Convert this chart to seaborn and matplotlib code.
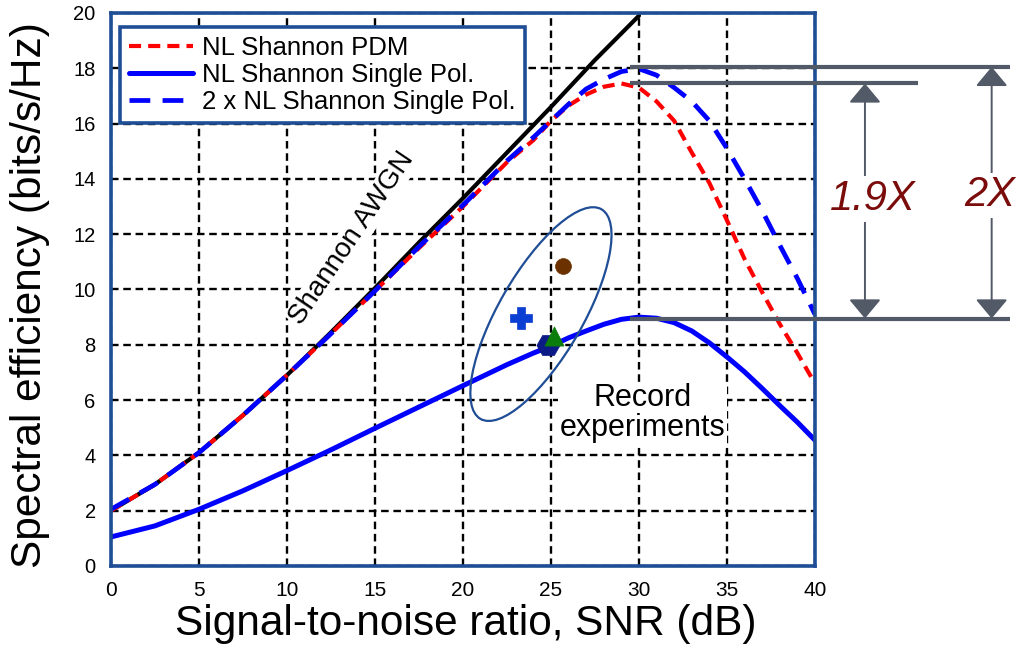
#!/usr/bin/env python3
"""Spectral efficiency vs SNR: Shannon AWGN limit and nonlinear Shannon curves."""

import matplotlib

matplotlib.use("Agg")
import matplotlib.pyplot as plt
import pandas as pd
import seaborn as sns
from matplotlib.patches import Ellipse
from matplotlib.transforms import ScaledTranslation

# values
SNR_AWGN = [0, 2.5, 5, 7.5, 10, 12.5, 15, 17.5, 20, 22.5, 25, 27.5, 30]
SE_AWGN = [2.0, 2.95, 4.1, 5.45, 6.9, 8.45, 10.05, 11.7, 13.3, 14.95, 16.6, 18.3, 19.9]

SNR_NL = [0, 2.5, 5, 7.5, 10, 12.5, 15, 17.5, 20, 22.5, 24, 25, 26, 27, 28,
          29, 30, 31, 32, 33, 34, 35, 36, 37, 38, 39, 40]
SE_PDM = [2.0, 2.95, 4.1, 5.45, 6.9, 8.4, 9.95, 11.5, 13.0, 14.6, 15.4, 16.1,
          16.65, 17.05, 17.33, 17.45, 17.3, 16.8, 16.1, 14.95, 13.85, 12.5,
          11.1, 9.9, 8.75, 7.7, 6.6]
SE_SINGLE = [1.05, 1.45, 2.05, 2.72, 3.45, 4.2, 4.98, 5.75, 6.52, 7.28, 7.7,
             7.95, 8.25, 8.5, 8.74, 8.92, 9.0, 8.96, 8.8, 8.5, 8.07, 7.56,
             7.02, 6.42, 5.8, 5.2, 4.55]
SE_2X_SINGLE = [2.05, 2.95, 4.1, 5.45, 6.9, 8.4, 9.95, 11.55, 13.05, 14.65,
                15.5, 16.1, 16.7, 17.25, 17.6, 17.88, 17.98, 17.75, 17.3, 16.8,
                16.1, 15.1, 14.0, 12.85, 11.6, 10.4, 9.1]

LABELS = ["NL Shannon PDM", "NL Shannon Single Pol.", "2 x NL Shannon Single Pol."]

# record experiments (markers inside the ellipse)
EXP_SNR = [23.3, 25.7, 24.85, 25.2]
EXP_SE = [8.96, 10.85, 7.99, 8.3]
EXP_MARKERS = ["P", "o", "H", "^"]
EXP_COLORS = ["#0b3fd3", "#6b3200", "#0c1a86", "#0a7d0a"]
EXP_SIZES = [230, 130, 280, 190]

# gain annotations
PEAK_2X = 18.05
PEAK_PDM = 17.45
PEAK_SINGLE = 8.95

NAVY = "#1f4e96"
GREY = "#525a67"
DARK_RED = "#7b0c0c"

sns.set_theme(style="white")
plt.rcParams["font.family"] = ["Liberation Sans", "DejaVu Sans"]
plt.rcParams["text.color"] = "black"
plt.rcParams["axes.labelcolor"] = "black"
plt.rcParams["xtick.color"] = "black"
plt.rcParams["ytick.color"] = "black"

fig = plt.figure(figsize=(10.21, 6.51), dpi=100)
ax = fig.add_axes([0.1087, 0.1306, 0.6895, 0.8495])

awgn = pd.DataFrame({"snr": SNR_AWGN, "se": SE_AWGN})
nl = pd.DataFrame({"snr": SNR_NL, "pdm": SE_PDM, "single": SE_SINGLE, "two": SE_2X_SINGLE})

sns.lineplot(data=awgn, x="snr", y="se", ax=ax, color="black", lw=3.0, zorder=3)
sns.lineplot(data=nl, x="snr", y="single", ax=ax, color="#0000ff", lw=3.6,
             label=LABELS[1], zorder=4)
sns.lineplot(data=nl, x="snr", y="pdm", ax=ax, color="#ff0000", lw=3.0,
             linestyle=(0, (2.9, 1.7)), label=LABELS[0], zorder=4)
sns.lineplot(data=nl, x="snr", y="two", ax=ax, color="#0000ff", lw=3.4,
             linestyle=(0, (4.4, 2.6)), label=LABELS[2], zorder=5)

for sx, sy, m, c, s in zip(EXP_SNR, EXP_SE, EXP_MARKERS, EXP_COLORS, EXP_SIZES):
    sns.scatterplot(x=[sx], y=[sy], ax=ax, marker=m, color=c, s=s,
                    edgecolor=c, linewidth=0.5, zorder=6)

# ellipse around the experiments, sized in inches so it is not distorted
ell = Ellipse((0, 0), width=2.42, height=0.84, angle=60, fill=False,
              edgecolor=NAVY, lw=1.6, zorder=6,
              transform=fig.dpi_scale_trans + ScaledTranslation(24.43, 9.11, ax.transData))
ax.add_patch(ell)

ax.set_xlim(0, 40)
ax.set_ylim(0, 20)
ax.set_xticks(range(0, 41, 5))
ax.set_yticks(range(0, 21, 2))
ax.grid(True, color="black", linestyle=(0, (3.2, 2.0)), lw=1.7, zorder=1)
ax.set_axisbelow(True)
ax.tick_params(axis="both", length=0)
ax.tick_params(axis="x", pad=11, labelsize=15)
ax.tick_params(axis="y", pad=11, labelsize=14.5)
for lab in ax.get_xticklabels():
    lab.set_family(["Liberation Sans Narrow", "Liberation Sans", "DejaVu Sans"])
for sp in ax.spines.values():
    sp.set_color(NAVY)
    sp.set_linewidth(2.6)
    sp.set_zorder(7)

ax.set_xlabel("Signal-to-noise ratio, SNR (dB)", fontsize=30.5)
ax.set_ylabel("Spectral efficiency (bits/s/Hz)", fontsize=30.5)
ax.xaxis.set_label_coords(0.504, -0.068)
ax.yaxis.set_label_coords(-0.087, 0.49)

handles, labels = ax.get_legend_handles_labels()
order = [labels.index(l) for l in LABELS]
leg = ax.legend([handles[i] for i in order], LABELS, loc="upper left",
                bbox_to_anchor=(0.0128, 0.975), borderaxespad=0, fontsize=18.5,
                frameon=True, fancybox=False, framealpha=1, edgecolor=NAVY,
                handlelength=2.5, handletextpad=0.35, borderpad=0.35,
                labelspacing=0.12)
leg.get_frame().set_linewidth(2.6)
leg.set_zorder(8)

white_box = dict(facecolor="white", edgecolor="none", pad=1)
ax.text(13.7, 11.85, "Shannon AWGN", rotation=56, fontsize=20, ha="center",
        va="center", rotation_mode="anchor", zorder=2, bbox=white_box)
ax.text(30.2, 5.53, "Record\nexperiments", fontsize=22, ha="center",
        va="center", linespacing=1.0, zorder=2, bbox=white_box)

# horizontal reference lines and gain arrows outside the axes
for y0, x1 in [(PEAK_2X, 51.08), (PEAK_PDM, 45.85), (PEAK_SINGLE, 51.08)]:
    ax.plot([29.5, x1], [y0, y0], color=GREY, lw=3.0, clip_on=False, zorder=9,
            solid_capstyle="butt")

for xa, ytop, txt, ytxt, xtxt in [(42.84, PEAK_PDM, "1.9X", 13.27, 43.3),
                                   (50.04, PEAK_2X, "2X", 13.4, 49.94)]:
    ax.annotate("", xy=(xa, ytop), xytext=(xa, PEAK_SINGLE),
                arrowprops=dict(arrowstyle="<|-|>,head_length=0.6,head_width=0.5",
                                color=GREY, lw=1.4, shrinkA=0, shrinkB=0,
                                mutation_scale=20),
                annotation_clip=False, zorder=9)
    ax.text(xtxt, ytxt, txt, fontsize=30, style="italic", color=DARK_RED,
            ha="center", va="center", clip_on=False, zorder=10,
            bbox=dict(facecolor="white", edgecolor="none", pad=2))

fig.savefig("out.png", dpi=100)
